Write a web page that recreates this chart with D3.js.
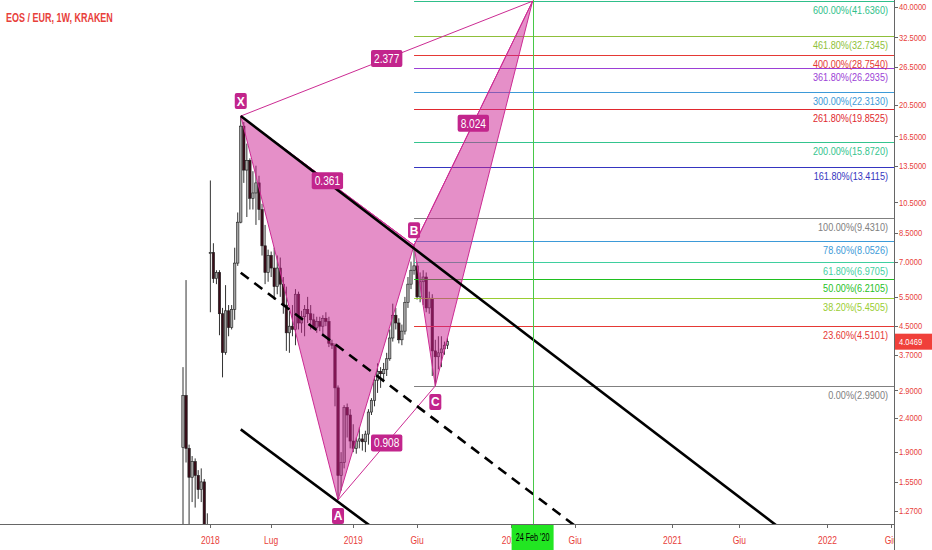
<!DOCTYPE html>
<html><head><meta charset="utf-8">
<script src="https://cdn.jsdelivr.net/npm/d3@7"></script>
<style>html,body{margin:0;padding:0;background:#fff;overflow:hidden}</style>
</head><body><svg id="c" width="932" height="550"></svg>
<script>
// ---------- data ----------
const title = "EOS / EUR, 1W, KRAKEN";
const open  = [1.96,2.80,1.95,1.60,1.78,1.62,1.47,1.55,1.10,7.40,
               7.45,6.23,6.50,4.90,3.76,5.00,4.46,5.05,6.93,9.17,
               17.70,13.1,14.0,10.8,11.2,12.0,10.0,7.8,6.5,7.3,
               6.7,5.9,6.7,6.0,5.2,4.3,4.5,4.4,5.6,4.6,
               4.8,5.05,4.9,4.7,4.45,4.65,4.5,4.75,4.65,4.0,
               3.95,2.95,1.62,1.77,2.58,2.45,2.05,1.95,2.05,2.08,
               2.04,2.15,2.50,2.71,3.11,3.30,3.25,3.35,3.60,4.15,
               4.85,4.60,4.10,4.35,5.30,6.00,6.60,6.80,5.50,6.10,
               6.30,5.10,5.45,3.80,3.65,3.75,3.85,3.95];
const high  = [3.40,6.17,2.00,1.85,1.82,1.68,1.70,1.58,1.25,12.2,
               7.94,6.60,6.60,5.10,5.96,5.20,5.20,7.70,9.80,18.96,
               18.20,15.7,14.2,13.0,13.5,12.6,10.4,9.0,7.6,7.5,
               7.7,7.3,7.2,6.3,5.9,5.0,5.2,5.8,5.7,5.0,
               5.2,5.5,5.2,4.9,4.8,4.8,4.85,4.95,4.8,4.1,
               4.0,3.0,1.90,2.62,2.65,2.55,2.30,2.10,2.25,2.15,
               2.20,2.55,2.75,3.20,3.49,3.40,3.50,3.75,4.40,5.25,
               5.10,4.75,4.55,5.50,6.30,7.00,7.83,7.00,6.50,6.60,
               6.50,5.70,5.60,4.10,4.20,4.20,4.05,4.15];
const low   = [0.90,1.77,1.00,1.35,1.30,1.38,1.35,0.95,0.90,4.95,
               6.05,6.00,4.23,3.17,3.70,4.20,4.40,4.70,6.80,9.10,
               12.0,9.5,10.0,10.0,9.0,9.3,7.3,6.0,6.1,6.3,
               5.4,5.6,5.5,4.9,3.8,3.75,4.2,3.95,4.4,4.3,
               4.2,4.6,4.4,4.4,4.3,4.35,4.2,4.5,3.9,3.85,
               2.6,1.37,1.46,1.70,2.10,1.95,1.90,1.88,1.95,1.92,
               1.90,2.00,2.45,2.60,2.85,2.95,3.10,3.20,3.55,4.05,
               4.40,4.00,3.95,4.25,5.10,5.80,6.40,5.40,5.30,5.20,
               4.95,4.90,3.20,2.99,3.35,3.40,3.70,3.85];
const close = [2.80,1.95,1.60,1.78,1.62,1.47,1.55,1.10,1.05,7.45,
               6.23,6.50,4.90,3.76,5.00,4.46,5.05,6.93,9.17,17.70,
               13.1,14.0,10.8,11.2,12.0,10.0,7.8,6.5,7.3,6.7,
               5.9,6.7,6.0,5.2,4.3,4.5,4.4,5.6,4.6,4.8,
               5.05,4.9,4.7,4.45,4.65,4.5,4.75,4.65,4.0,3.95,
               2.95,1.62,1.77,2.58,2.45,2.05,1.95,2.05,2.08,2.04,
               2.15,2.50,2.71,3.11,3.30,3.25,3.35,3.60,4.15,4.85,
               4.60,4.10,4.35,5.30,6.00,6.60,6.80,5.50,6.10,6.30,
               5.10,5.45,3.80,3.65,3.75,3.85,3.95,4.0469];

const yTicks = [40, 32.5, 26.5, 20.5, 16.5, 13.5, 10.5, 8.5, 7, 5.5, 4.5, 3.7, 2.9, 2.4, 1.9, 1.55, 1.27];
const xTickBars   = [9, 29, 56, 77, 108, 129, 161, 183, 212, 233];
const xTickLabels = ["2018","Lug","2019","Giu","2020","Giu","2021","Giu","2022","Giu"];

const patternNames  = ["X","A","B","C","D"];
const patternBars   = [19, 51, 76, 83, 115];
const patternPrices = [18.96, 1.37, 7.83, 2.99, 41.636];
const ratioPairs  = [[0,4],[0,2],[2,4],[1,3]];
const ratioLabels = ["2.377","0.361","8.024","0.908"];

const fibLabels = ["600.00%","461.80%","400.00%","361.80%","300.00%","261.80%","200.00%","161.80%","100.00%","78.60%","61.80%","50.00%","38.20%","23.60%","0.00%"];
const fibPrices = [41.636, 32.7345, 28.754, 26.2935, 22.313, 19.8525, 15.872, 13.4115, 9.431, 8.0526, 6.9705, 6.2105, 5.4505, 4.5101, 2.99];
const fibStartBar = 76;

const channelBars   = [[19,200],[19,130],[19,70]];
const channelPrices = [[18.96,1.066],[6.49,1.129],[2.22,1.007]];

const markerBar = 115, markerLabel = "24 Feb '20";
const lastPrice = 4.0469;

// ---------- styles ----------
const fibColors = ["#2fbf8a","#8fbf3a","#e53935","#9c3fd6","#3d9ad8","#e0282e","#34c48e","#3535c0","#808080","#3d9ad8","#3fcf9f","#1fbf1f","#9acd32","#e53935","#808080"];
const RED = "#e8403a", PINK = "#cc2b93", PINKFILL = "#cb1f91", BOX = "#c2258c";
const FONT = "'Liberation Sans', Arial, sans-serif";

const svg = d3.select("#c");
const plotR = 894, plotB = 524;
const x = d3.scaleLinear().domain([0, 234]).range([183, 183 + 234 * 3.04]);
const y = d3.scaleLog().domain([1.27, 40]).range([511, 7]);

// condensed text via transform (narrow TradingView-like glyphs)
function ctext(parent, tx, ty, str, size, sx, anchor, fill, weight) {
  return parent.append("text")
    .attr("transform", `translate(${tx},${ty}) scale(${sx},1)`)
    .attr("x", 0).attr("y", 0)
    .attr("text-anchor", anchor || "start")
    .attr("font-family", FONT).attr("font-size", size)
    .attr("font-weight", weight || "normal")
    .attr("fill", fill).text(str);
}

const defs = svg.append("defs");
defs.append("clipPath").attr("id", "clip")
  .append("rect").attr("x", 0).attr("y", 0).attr("width", plotR).attr("height", plotB);
const mbx = x(markerBar);
defs.append("clipPath").attr("id", "clipx").attr("clipPathUnits", "userSpaceOnUse")
  .append("rect").attr("x", -200).attr("y", -30).attr("width", 200 + (mbx - 21 - x(108)) / 0.85).attr("height", 60);
const g = svg.append("g").attr("clip-path", "url(#clip)");

// candles
const candles = open.map((o, i) => ({ i, o, h: high[i], l: low[i], c: close[i] }));
g.append("g").selectAll("line").data(candles).join("line")
  .attr("x1", d => x(d.i)).attr("x2", d => x(d.i))
  .attr("y1", d => y(d.h)).attr("y2", d => y(d.l))
  .attr("stroke", "#333").attr("stroke-width", 1);
g.append("g").selectAll("rect").data(candles).join("rect")
  .attr("x", d => x(d.i) - 1.2).attr("width", 2.4)
  .attr("y", d => y(Math.max(d.o, d.c)))
  .attr("height", d => Math.max(1, Math.abs(y(d.o) - y(d.c))))
  .attr("fill", d => d.c >= d.o ? "#a3a3a3" : "#3a0c18")
  .attr("stroke", "#1c1c1c").attr("stroke-width", 0.6);

// fib lines
g.append("g").selectAll("line").data(fibPrices).join("line")
  .attr("x1", x(fibStartBar)).attr("x2", plotR)
  .attr("y1", d => Math.round(y(d)) + 0.5).attr("y2", d => Math.round(y(d)) + 0.5)
  .attr("stroke", (d, i) => fibColors[i]).attr("stroke-width", 1.2);

// pattern
const P = patternBars.map((b, i) => [x(b), y(patternPrices[i])]);
g.append("path").attr("d", "M" + [P[0], P[1], P[2]].join("L") + "Z")
  .attr("fill", PINKFILL).attr("fill-opacity", 0.5).attr("stroke", PINK).attr("stroke-width", 1);
g.append("path").attr("d", "M" + [P[2], P[3], P[4]].join("L") + "Z")
  .attr("fill", PINKFILL).attr("fill-opacity", 0.5).attr("stroke", PINK).attr("stroke-width", 1);
ratioPairs.forEach(([a, b]) => {
  g.append("line").attr("x1", P[a][0]).attr("y1", P[a][1]).attr("x2", P[b][0]).attr("y2", P[b][1])
    .attr("stroke", PINK).attr("stroke-width", 1);
});

// channel lines
channelBars.forEach((bb, k) => {
  g.append("line")
    .attr("x1", x(bb[0])).attr("y1", y(channelPrices[k][0]))
    .attr("x2", x(bb[1])).attr("y2", y(channelPrices[k][1]))
    .attr("stroke", "#000").attr("stroke-width", 2.6)
    .attr("stroke-dasharray", k === 1 ? "10,7" : null);
});

// marker vertical line
g.append("line").attr("x1", Math.round(mbx) + 0.5).attr("x2", Math.round(mbx) + 0.5)
  .attr("y1", 0).attr("y2", plotB).attr("stroke", "#48c848").attr("stroke-width", 1);

// fib labels
const flg = svg.append("g");
fibPrices.forEach((p, i) => {
  ctext(flg, 888, y(p) + 13, fibLabels[i] + "(" + p.toFixed(4) + ")", 11, 0.83, "end", fibColors[i]);
});

// ratio labels
ratioPairs.forEach(([a, b], k) => {
  const mx = (P[a][0] + P[b][0]) / 2, my = (P[a][1] + P[b][1]) / 2;
  const gg = svg.append("g");
  const r = gg.append("rect");
  const t = ctext(gg, mx, my + 4.5, ratioLabels[k], 13, 0.78, "middle", "#fff");
  const w = t.node().getComputedTextLength() * 0.78 + 6;
  r.attr("x", mx - w / 2).attr("y", my - 8.5).attr("width", w).attr("height", 17).attr("rx", 2).attr("fill", BOX);
});

// point labels
const place = [-1, 1, -1, 1];
patternNames.slice(0, 4).forEach((n, i) => {
  const cx = P[i][0], cy = P[i][1];
  const top = place[i] < 0 ? cy - 23 : cy + 8;
  svg.append("rect").attr("x", cx - 6).attr("y", top).attr("width", 12).attr("height", 16).attr("rx", 2).attr("fill", BOX);
  svg.append("text").attr("x", cx).attr("y", top + 12.5).attr("text-anchor", "middle")
    .attr("font-family", FONT).attr("font-size", 12).attr("font-weight", "bold").attr("fill", "#fff").text(n);
});

// x axis
svg.append("line").attr("x1", 0).attr("x2", plotR).attr("y1", plotB + 0.5).attr("y2", plotB + 0.5).attr("stroke", "#666");
svg.append("g").selectAll("line").data(xTickBars).join("line")
  .attr("x1", d => Math.round(x(d)) + 0.5).attr("x2", d => Math.round(x(d)) + 0.5)
  .attr("y1", plotB).attr("y2", plotB + 4).attr("stroke", "#666");
const xlg = svg.append("g");
xTickBars.forEach((b, i) => {
  const t = ctext(xlg, x(b), 544, xTickLabels[i], 10, 0.85, "middle", RED);
  if (x(b) > mbx - 35 && x(b) < mbx + 21) t.attr("clip-path", "url(#clipx)");
});

// marker date box
svg.append("rect").attr("x", mbx - 21).attr("y", plotB + 1).attr("width", 42).attr("height", 550 - plotB).attr("fill", "#22e622");
ctext(svg, mbx, 541, markerLabel, 10, 0.72, "middle", "#000");

// right axis panel
svg.append("rect").attr("x", plotR + 1).attr("y", 0).attr("width", 932 - plotR).attr("height", 550).attr("fill", "#fff");
svg.append("line").attr("x1", plotR + 0.5).attr("x2", plotR + 0.5).attr("y1", 0).attr("y2", 550).attr("stroke", "#666");
svg.append("g").selectAll("line").data(yTicks).join("line")
  .attr("x1", plotR).attr("x2", plotR + 4)
  .attr("y1", d => Math.round(y(d)) + 0.5).attr("y2", d => Math.round(y(d)) + 0.5).attr("stroke", "#666");
const ylg = svg.append("g");
yTicks.forEach(v => ctext(ylg, 899, y(v) + 3.2, v.toFixed(4), 9, 0.84, "start", RED));

// last price label
const ly = y(lastPrice);
svg.append("rect").attr("x", plotR + 1).attr("y", ly - 8).attr("width", 932 - plotR - 1).attr("height", 16).attr("fill", "#f0403a");
ctext(svg, 899, ly + 3.5, lastPrice.toFixed(4), 9, 0.84, "start", "#fff");

// title
ctext(svg, 6, 21.5, title, 12.5, 0.72, "start", RED, "600");
</script>
</body></html>
